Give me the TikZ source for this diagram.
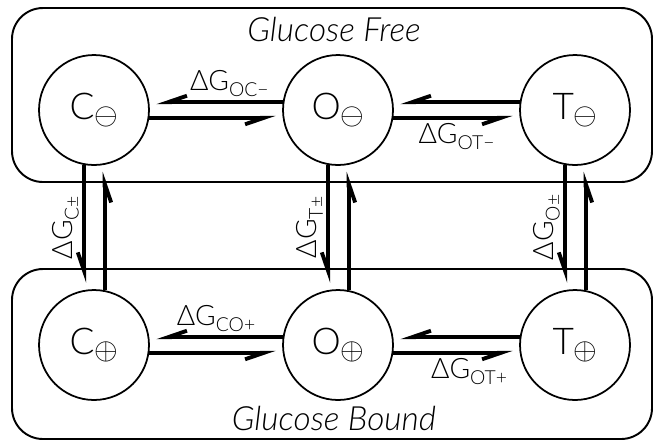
\documentclass[tikz,border=0pt]{standalone}
\usepackage{fontspec}
\setmainfont{Lato Light}
\usetikzlibrary{arrows.meta}
% charge sign of a state, lowered below the letter
\newcommand{\chg}[1]{\raisebox{-3pt}{\fontsize{16}{16}\selectfont$#1$}}
% free energy label with its subscript
\newcommand{\dG}[1]{ΔG\raisebox{-3.5pt}{\fontsize{11}{11}\selectfont #1}}

\begin{document}
\begin{tikzpicture}[x=0.02cm, y=-0.02cm,
    state/.style={circle, draw, line width=1pt, minimum size=2.2cm, inner sep=0pt,
        font=\fontsize{21}{24}\selectfont},
    group/.style={draw, line width=1.1pt, rounded corners=0.62cm},
    rate/.style={line width=2.2pt, shorten >=0.14cm,
        -{Straight Barb[right, length=0.38cm, width=0.26cm]}},
    dg/.style={font=\fontsize{16}{18}\selectfont, inner sep=2pt},
    title/.style={font=\fontsize{19}{22}\selectfont\itshape}]

    \useasboundingbox (0,0) rectangle (655,441);

    % ==========================================
    % Glucose free / glucose bound boxes
    % ==========================================
    \draw[group] (12,8) rectangle (652,182);
    \draw[group] (12,269) rectangle (652,439);
    \node[title] (free) at (334,29) {Glucose Free};
    \node[title] (bound) at (334,418) {Glucose Bound};

    % ==========================================
    % States
    % ==========================================
    \node[state] (Cm) at (94,110) {C\chg{\ominus}};
    \node[state] (Om) at (338,110) {O\chg{\ominus}};
    \node[state] (Tm) at (575,110) {T\chg{\ominus}};
    \node[state] (Cp) at (94,345) {C\chg{\oplus}};
    \node[state] (Op) at (338,345) {O\chg{\oplus}};
    \node[state] (Tp) at (575,345) {T\chg{\oplus}};

    % ==========================================
    % Horizontal transitions
    % ==========================================
    \draw[rate] (Om.172) -- (Cm.8) node[dg, pos=0.4, above] {\dG{OC−}};
    \draw[rate] (Cm.-8) -- (Om.-172);
    \draw[rate] (Tm.172) -- (Om.8);
    \draw[rate] (Om.-8) -- (Tm.-172) node[dg, midway, below] {\dG{OT−}};

    \draw[rate] (Op.172) -- (Cp.8) node[dg, midway, above] {\dG{CO+}};
    \draw[rate] (Cp.-8) -- (Op.-172);
    \draw[rate] (Tp.172) -- (Op.8);
    \draw[rate] (Op.-8) -- (Tp.-172) node[dg, pos=0.6, below] {\dG{OT+}};

    % ==========================================
    % Vertical transitions
    % ==========================================
    \draw[rate] (Cm.-100.5) -- (Cp.100.5) node[dg, midway, rotate=90, anchor=south] {\dG{C±}};
    \draw[rate] (Cp.79.5) -- (Cm.-79.5);
    \draw[rate] (Om.-100.5) -- (Op.100.5) node[dg, midway, rotate=90, anchor=south] {\dG{T±}};
    \draw[rate] (Op.79.5) -- (Om.-79.5);
    \draw[rate] (Tm.-100.5) -- (Tp.100.5) node[dg, midway, rotate=90, anchor=south] {\dG{O±}};
    \draw[rate] (Tp.79.5) -- (Tm.-79.5);

\end{tikzpicture}
\end{document}
